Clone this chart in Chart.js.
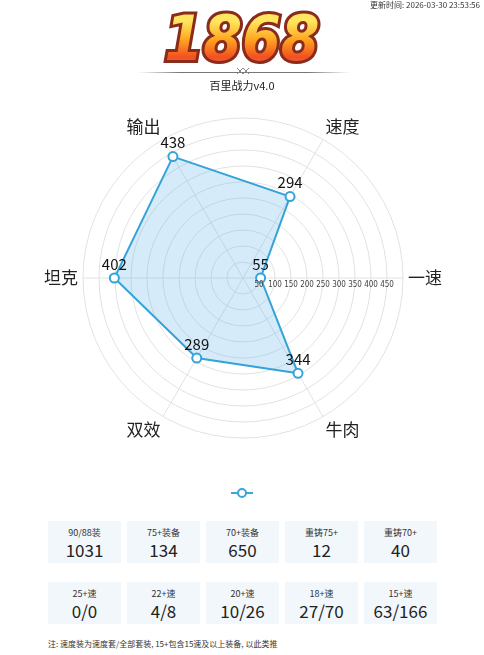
<!DOCTYPE html>
<html>
<head>
<meta charset="utf-8">
<script src="https://cdn.jsdelivr.net/npm/chart.js@4.4.1/dist/chart.umd.min.js"></script>
<style>
  body { margin: 0; width: 484px; height: 655px; background: #fff; position: relative; overflow: hidden;
         font-family: "Noto Sans CJK SC", "Noto Sans", sans-serif; color: #222; }
  #wrap { position: absolute; left: 0; top: 0; width: 484px; height: 500px; }
  .stamp { position: absolute; right: 4px; top: -1px; font-size: 8px; color: #333; }
  .big { position: absolute; left: 0; width: 484px; top: 4px; text-align: center; font-family: "DejaVu Sans Condensed", "DejaVu Sans";
         font-weight: bold; font-style: italic; font-size: 62px; letter-spacing: 0px; line-height: 70px; }
  .big.back { color: #8a2c1c; -webkit-text-stroke: 6px #8a2c1c; text-shadow: 0 2px 2px rgba(0,0,0,0.2); }
  .big.front { background: linear-gradient(#ffe65e 25%, #ffa822 50%, #f2501f 76%, #f46d82 94%);
               -webkit-background-clip: text; background-clip: text; color: transparent; }
  .rule { position: absolute; top: 72px; left: 138px; width: 212px; height: 1px;
          background: linear-gradient(90deg, rgba(120,120,120,0), #777 20%, #777 80%, rgba(120,120,120,0)); }
  .orn { position: absolute; left: 235px; top: 66px; }
  .sub { position: absolute; top: 77px; left: 0; width: 484px; text-align: center; font-size: 11px; color: #222; }
  .leg { position: absolute; left: 231px; top: 487px; }
  .cards { position: absolute; left: 48px; width: 390px; display: flex; gap: 6px; }
  .card { width: 73px; height: 42px; background: #f2f7fb; text-align: center; }
  .card .l { font-size: 9px; color: #333; margin-top: 6px; line-height: 12px; }
  .card .v { font-size: 17px; color: #222; line-height: 22px; }
  .note { position: absolute; left: 48px; top: 638px; font-size: 8px; color: #333; }
</style>
</head>
<body>
<div id="wrap"><canvas id="radar" width="484" height="500"></canvas></div>
<div class="stamp">更新时间: 2026-03-30 23:53:56</div>
<div class="big back">1868</div>
<div class="big front">1868</div>
<div class="rule"></div>
<svg class="orn" width="16" height="10"><path d="M2 2 L8 8 L14 2 M2 8 L8 2 L14 8" stroke="#888" stroke-width="1" fill="none"/></svg>
<div class="sub">百里战力v4.0</div>
<svg class="leg" width="22" height="12"><line x1="0" y1="6" x2="22" y2="6" stroke="#3aa5d8" stroke-width="2"/><circle cx="11" cy="6" r="4" fill="#fff" stroke="#3aa5d8" stroke-width="2"/></svg>
<div class="cards" id="row1" style="top:521px"></div>
<div class="cards" id="row2" style="top:582px"></div>
<div class="note">注: 速度装为速度套/全部套装, 15+包含15速及以上装备, 以此类推</div>

<script>
// radar data
var categories = ["输出", "速度", "一速", "牛肉", "双效", "坦克"];
var values = [438, 294, 55, 344, 289, 402];
var tickLabels = [50, 100, 150, 200, 250, 300, 350, 400, 450];

// stat cards
var gearLabels = ["90/88装", "75+装备", "70+装备", "重铸75+", "重铸70+"];
var gearValues = ["1031", "134", "650", "12", "40"];
var speedLabels = ["25+速", "22+速", "20+速", "18+速", "15+速"];
var speedValues = ["0/0", "4/8", "10/26", "27/70", "63/166"];

function fillRow(id, labels, vals) {
  var row = document.getElementById(id);
  labels.forEach(function(l, i) {
    var d = document.createElement("div");
    d.className = "card";
    d.innerHTML = '<div class="l">' + l + '</div><div class="v">' + vals[i] + '</div>';
    row.appendChild(d);
  });
}
fillRow("row1", gearLabels, gearValues);
fillRow("row2", speedLabels, speedValues);

var FONT = '"Noto Sans CJK SC", "Noto Sans", sans-serif';

// labels, tick numbers and value labels drawn from the r scale
var radarText = {
  id: "radarText",
  afterDraw: function(chart) {
    var ctx = chart.ctx;
    var r = chart.scales.r;
    ctx.save();
    // category names
    ctx.font = "17px " + FONT;
    ctx.fillStyle = "#222";
    categories.forEach(function(name, i) {
      var p = r.getPointPosition(i, r.drawingArea + 5);
      var a = r.getIndexAngle(i);
      var sx = Math.sin(a), cy = Math.cos(a);
      ctx.textAlign = Math.abs(sx) < 0.01 ? "center" : (sx > 0 ? "left" : "right");
      ctx.textBaseline = Math.abs(cy) < 0.01 ? "middle" : (cy > 0 ? "bottom" : "top");
      ctx.fillText(name, p.x, p.y);
    });
    // tick numbers along the 一速 axis
    ctx.font = '8px "DejaVu Sans Condensed", ' + FONT;
    ctx.fillStyle = "#444";
    ctx.textAlign = "center";
    ctx.textBaseline = "middle";
    tickLabels.forEach(function(t) {
      var p = r.getPointPosition(2, r.getDistanceFromCenterForValue(t));
      ctx.fillText(t, p.x, p.y + 7);
    });
    // values over the points
    ctx.font = "15px " + FONT;
    ctx.fillStyle = "#111";
    chart.getDatasetMeta(0).data.forEach(function(pt, i) {
      ctx.fillText(values[i], pt.x, pt.y - 14);
    });
    ctx.restore();
  }
};

new Chart(document.getElementById("radar"), {
  type: "radar",
  data: {
    labels: categories,
    datasets: [{
      data: values,
      backgroundColor: "rgba(90,175,230,0.25)",
      borderColor: "#35a3d8",
      borderWidth: 2,
      pointBackgroundColor: "#fff",
      pointBorderColor: "#35a3d8",
      pointBorderWidth: 2,
      pointRadius: 4.5,
      fill: true
    }]
  },
  options: {
    responsive: false,
    animation: false,
    layout: { padding: { left: 83, right: 81, top: 118, bottom: 62 } },
    plugins: { legend: { display: false }, tooltip: { enabled: false } },
    scales: {
      r: {
        min: 0,
        max: 500,
        startAngle: -30,
        ticks: { stepSize: 50, display: false },
        grid: { circular: true, color: "#e2e2e2" },
        angleLines: { color: "#e2e2e2" },
        pointLabels: { display: false }
      }
    }
  },
  plugins: [radarText]
});
</script>
</body>
</html>
